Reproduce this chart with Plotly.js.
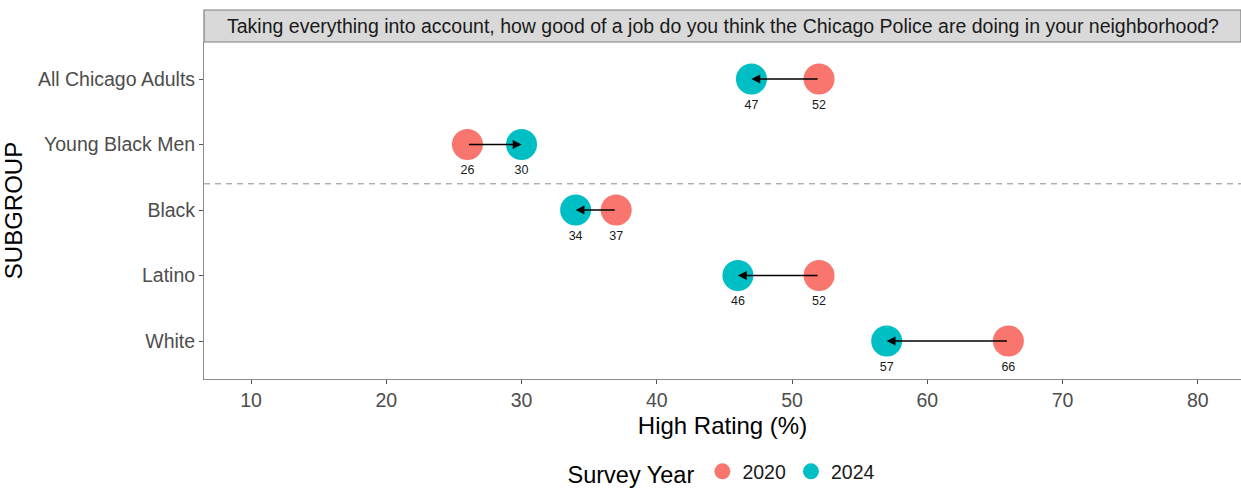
<!DOCTYPE html>
<html><head><meta charset="utf-8">
<script src="https://cdn.plot.ly/plotly-3.0.1.min.js"></script>
<style>body{margin:0;background:#fff}</style>
</head><body>
<div id="chart" style="width:1241px;height:489px"></div>
<script>
const subgroups = ["All Chicago Adults","Young Black Men","Black","Latino","White"];
const values2020 = [52, 26, 37, 52, 66];
const values2024 = [47, 30, 34, 46, 57];
const years = ["2020","2024"];
const stripTitle = "Taking everything into account, how good of a job do you think the Chicago Police are doing in your neighborhood?";
const xTicks = [10,20,30,40,50,60,70,80];

const FONT = "Liberation Sans, Arial, sans-serif";
const idx = subgroups.map((_, i) => i);

const traces = [
  {
    type: "scatter", mode: "markers+text", name: years[0],
    x: values2020, y: idx, text: values2020.map(String),
    textposition: "bottom center", textfont: {size: 12.5, color: "#1a1a1a", family: FONT},
    marker: {size: 31, color: "#F8766D"}, cliponaxis: false
  },
  {
    type: "scatter", mode: "markers+text", name: years[1],
    x: values2024, y: idx, text: values2024.map(String),
    textposition: "bottom center", textfont: {size: 12.5, color: "#1a1a1a", family: FONT},
    marker: {size: 31, color: "#00BFC4"}, cliponaxis: false
  }
];

const annotations = idx.map(i => ({
  x: values2024[i], y: i, ax: values2020[i], ay: i,
  xref: "x", yref: "y", axref: "x", ayref: "y",
  text: "", showarrow: true, arrowhead: 2, arrowsize: 1.1, arrowwidth: 1.6,
  arrowcolor: "#000", standoff: 0, startstandoff: 0
}));
annotations.push({
  xref: "paper", yref: "paper", x: 0.5, y: 1 + 16/337, text: stripTitle,
  showarrow: false, xanchor: "center", yanchor: "middle",
  font: {size: 19.5, color: "#1a1a1a", family: FONT}
});

const layout = {
  width: 1241, height: 489,
  margin: {l: 204, r: 0, t: 42, b: 110, autoexpand: false},
  paper_bgcolor: "#fff", plot_bgcolor: "#fff",
  font: {family: FONT},
  showlegend: true,
  legend: {
    orientation: "h", x: 0.5, xanchor: "center", y: -0.278, yanchor: "middle",
    title: {text: "Survey Year", font: {size: 23.5, color: "#000", family: FONT}, side: "left"},
    font: {size: 19.5, color: "#1a1a1a", family: FONT},
    itemsizing: "trace"
  },
  xaxis: {
    range: [6.52, 83.2], tickvals: xTicks, ticktext: xTicks.map(String),
    showgrid: false, zeroline: false, showline: true, linecolor: "#8c8c8c", linewidth: 1,
    ticks: "outside", ticklen: 4, tickcolor: "#555", tickwidth: 1,
    tickfont: {size: 19.5, color: "#4d4d4d", family: FONT},
    title: {text: "High Rating (%)", font: {size: 24, color: "#000", family: FONT}, standoff: 6}
  },
  yaxis: {
    range: [4.58, -0.565], tickvals: idx, ticktext: subgroups,
    showgrid: false, zeroline: false, showline: true, linecolor: "#8c8c8c", linewidth: 1,
    ticks: "outside", ticklen: 4, tickcolor: "#555", tickwidth: 1,
    tickfont: {size: 19.5, color: "#4d4d4d", family: FONT},
    title: {text: "SUBGROUP", font: {size: 24, color: "#000", family: FONT}, standoff: 8}
  },
  shapes: [
    {type: "rect", xref: "paper", yref: "paper", x0: 0, x1: 1, y0: 1, y1: 1 + 32/337,
     fillcolor: "#d9d9d9", line: {color: "#7f7f7f", width: 1.2}, layer: "above"},
    {type: "line", xref: "paper", yref: "y", x0: 0, x1: 1, y0: 1.6, y1: 1.6,
     line: {color: "#8c8c8c", width: 1, dash: "6px,5px"}}
  ],
  annotations: annotations
};

Plotly.newPlot("chart", traces, layout, {displayModeBar: false, staticPlot: true});
</script>
</body></html>
